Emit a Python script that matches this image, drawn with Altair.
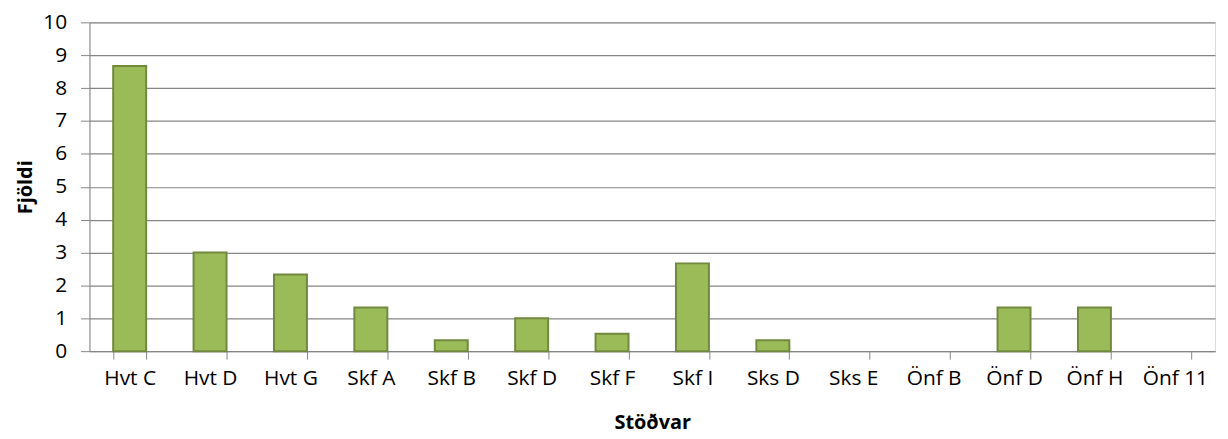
import altair as alt
import pandas as pd

stations = ["Hvt C", "Hvt D", "Hvt G", "Skf A", "Skf B", "Skf D", "Skf F",
            "Skf I", "Sks D", "Sks E", "Önf B", "Önf D", "Önf H", "Önf 11"]
counts = [8.67, 3.0, 2.33, 1.33, 0.33, 1.0, 0.53, 2.67, 0.33, 0.0, 0.0, 1.33, 1.33, 0.0]

df = pd.DataFrame({"Stöð": stations, "Fjöldi": counts})

FONT = "Open Sans"

chart = alt.Chart(df).mark_bar(
    color="#9BBB59", stroke="#71893F", strokeWidth=2
).encode(
    x=alt.X("Stöð:N", sort=stations, title="Stöðvar",
            scale=alt.Scale(paddingInner=0.59, paddingOuter=0.295),
            axis=alt.Axis(labelAngle=0, tickBand="extent", tickSize=8,
                          tickColor="#868686", domainColor="#868686",
                          labelFontSize=21, labelColor="#000000", labelPadding=9,
                          titleFontSize=20, titleFontWeight="bold", titlePadding=24,
                          titleColor="#000000")),
    y=alt.Y("Fjöldi:Q", title="Fjöldi",
            scale=alt.Scale(domain=[0, 10]),
            axis=alt.Axis(values=list(range(0, 11)), tickSize=9,
                          tickColor="#868686", domainColor="#868686",
                          gridColor="#868686", gridWidth=1.2,
                          labelFontSize=21, labelColor="#000000", labelPadding=14,
                          titleFontSize=20, titleFontWeight="bold", titlePadding=7,
                          titleColor="#000000")),
    opacity=alt.condition("datum['Fjöldi'] > 0", alt.value(1), alt.value(0)),
).properties(
    width=1133, height=331,
    padding={"left": 82, "top": 13, "right": 5, "bottom": 90},
    autosize=alt.AutoSizeParams(type="none"),
).configure_view(
    fill="#E6E6E6", stroke="#868686"
).configure(
    font=FONT
)

chart.save("out.html", embed_options={"renderer": "svg", "actions": False})
